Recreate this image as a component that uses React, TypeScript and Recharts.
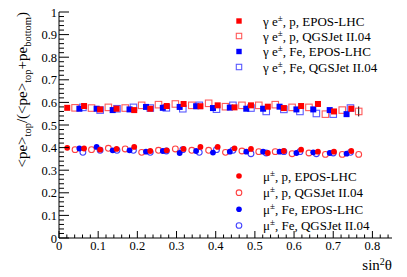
import React from 'react';
import { ScatterChart, Scatter, XAxis, YAxis, ErrorBar } from 'recharts';

const W = 407;
const H = 277;
const FONT = '"Liberation Serif", "Times New Roman", serif';
const RED = '#ff0000';
const BLUE = '#0000ff';

// x positions (sin^2 theta) per model/primary
const xEposP = [0.021, 0.064, 0.105, 0.147, 0.192, 0.233, 0.275, 0.318, 0.361, 0.405, 0.448, 0.49, 0.533, 0.574, 0.618, 0.661, 0.702, 0.746];
const xQgsP = [0.041, 0.083, 0.126, 0.169, 0.211, 0.254, 0.297, 0.339, 0.382, 0.425, 0.467, 0.51, 0.552, 0.595, 0.638, 0.68, 0.723, 0.765];
const xEposFe = [0.052, 0.096, 0.137, 0.18, 0.222, 0.265, 0.308, 0.35, 0.393, 0.436, 0.478, 0.521, 0.563, 0.606, 0.649, 0.691, 0.734];
const xQgsFe = [0.061, 0.105, 0.148, 0.19, 0.233, 0.274, 0.316, 0.358, 0.402, 0.444, 0.49, 0.529, 0.574, 0.615, 0.657, 0.7, 0.744];

// gamma e+- ratios
const eEposP = [0.576, 0.584, 0.569, 0.572, 0.566, 0.572, 0.584, 0.593, 0.583, 0.587, 0.578, 0.587, 0.581, 0.575, 0.584, 0.593, 0.56, 0.572];
const eQgsP = [0.576, 0.575, 0.578, 0.575, 0.587, 0.59, 0.593, 0.587, 0.596, 0.581, 0.587, 0.587, 0.59, 0.578, 0.578, 0.548, 0.566, 0.56];
const eQgsPErr = [0, 0, 0, 0, 0, 0, 0, 0, 0, 0, 0, 0, 0, 0, 0, 0, 0, 0.022];
const eEposFe = [0.572, 0.572, 0.566, 0.569, 0.58, 0.576, 0.58, 0.583, 0.575, 0.577, 0.572, 0.572, 0.581, 0.569, 0.569, 0.566, 0.548];
const eQgsFe = [0.578, 0.566, 0.572, 0.578, 0.575, 0.576, 0.572, 0.587, 0.57, 0.587, 0.575, 0.56, 0.569, 0.56, 0.551, 0.548, 0.575];

// muon ratios
const muEposP = [0.399, 0.396, 0.391, 0.394, 0.403, 0.385, 0.388, 0.394, 0.403, 0.403, 0.397, 0.394, 0.376, 0.385, 0.391, 0.382, 0.382, 0.385];
const muQgsP = [0.391, 0.391, 0.397, 0.394, 0.379, 0.388, 0.394, 0.388, 0.388, 0.379, 0.385, 0.382, 0.382, 0.373, 0.376, 0.37, 0.37, 0.37];
const muEposFe = [0.396, 0.403, 0.388, 0.388, 0.382, 0.385, 0.376, 0.385, 0.378, 0.382, 0.382, 0.382, 0.382, 0.376, 0.379, 0.376, 0.373];
const muQgsFe = [0.379, 0.388, 0.388, 0.388, 0.379, 0.385, 0.391, 0.379, 0.391, 0.388, 0.373, 0.376, 0.382, 0.382, 0.373, 0.376, 0.379];

const xMajorTicks = [0, 0.1, 0.2, 0.3, 0.4, 0.5, 0.6, 0.7, 0.8];
const yMajorTicks = [0, 0.1, 0.2, 0.3, 0.4, 0.5, 0.6, 0.7, 0.8, 0.9, 1];
const xAllTicks = Array.from({ length: 43 }, (_, i) => +(i * 0.02).toFixed(2));
const yAllTicks = Array.from({ length: 51 }, (_, i) => +(i * 0.02).toFixed(2));

const legendTop = [
  { kind: 'fsq', color: RED, label: ', p, EPOS-LHC' },
  { kind: 'osq', color: RED, label: ', p, QGSJet II.04' },
  { kind: 'fsq', color: BLUE, label: ', Fe, EPOS-LHC' },
  { kind: 'osq', color: BLUE, label: ', Fe, QGSJet II.04' },
];
const legendBottom = [
  { kind: 'fc', color: RED, label: ', p, EPOS-LHC' },
  { kind: 'oc', color: RED, label: ', p, QGSJet II.04' },
  { kind: 'fc', color: BLUE, label: ', Fe, EPOS-LHC' },
  { kind: 'oc', color: BLUE, label: ', Fe, QGSJet II.04' },
];

const zip = (xs: number[], ys: number[], errs?: number[]) =>
  xs.map((x, i) => ({ x, y: ys[i], err: errs ? errs[i] : 0 }));

const isMajor = (v: number, majors: number[]) => majors.some((m) => Math.abs(m - v) < 1e-6);
const fmt = (v: number) => String(Math.round(v * 10) / 10);

const XTick = (props: any) => {
  const { x, y, payload } = props;
  const v = payload.value;
  const major = isMajor(v, xMajorTicks);
  return (
    <g>
      <line x1={x} x2={x} y1={y} y2={y - (major ? 7 : 3.5)} stroke="#000" strokeWidth={1} />
      {major && (
        <text x={x} y={y + 12} textAnchor="middle" fontFamily={FONT} fontSize={12.5} fill="#000">
          {fmt(v)}
        </text>
      )}
    </g>
  );
};

const YTick = (props: any) => {
  const { x, y, payload } = props;
  const v = payload.value;
  const major = isMajor(v, yMajorTicks);
  return (
    <g>
      <line x1={x} x2={x + (major ? 10 : 5)} y1={y} y2={y} stroke="#000" strokeWidth={1} />
      {major && (
        <text x={x - 2} y={y + 4.5} textAnchor="end" fontFamily={FONT} fontSize={12.5} fill="#000">
          {fmt(v)}
        </text>
      )}
    </g>
  );
};

const FilledSquare = (color: string, s: number) => (p: any) => (
  <rect x={p.cx - s / 2} y={p.cy - s / 2} width={s} height={s} fill={color} />
);
const OpenSquare = (color: string, s: number) => (p: any) => (
  <rect x={p.cx - s / 2} y={p.cy - s / 2} width={s} height={s} fill="none" stroke={color} strokeOpacity={0.65} strokeWidth={1.1} />
);
const FilledCircle = (color: string, r: number) => (p: any) => (
  <circle cx={p.cx} cy={p.cy} r={r} fill={color} />
);
const OpenCircle = (color: string, r: number) => (p: any) => (
  <circle cx={p.cx} cy={p.cy} r={r} fill="none" stroke={color} strokeOpacity={0.75} strokeWidth={1.1} />
);

const LegendMark = ({ kind, color, cx, cy }: any) => {
  if (kind === 'fsq') return <rect x={cx - 2.7} y={cy - 2.7} width={5.4} height={5.4} fill={color} />;
  if (kind === 'osq')
    return <rect x={cx - 2.7} y={cy - 2.7} width={5.4} height={5.4} fill="none" stroke={color} strokeOpacity={0.65} strokeWidth={1.1} />;
  if (kind === 'fc') return <circle cx={cx} cy={cy} r={2.8} fill={color} />;
  return <circle cx={cx} cy={cy} r={2.8} fill="none" stroke={color} strokeOpacity={0.75} strokeWidth={1.1} />;
};

export default function App() {
  const topRows = [21, 36, 51.5, 67];
  const botRows = [176, 192.7, 209.3, 225.5];
  return (
    <div style={{ position: 'absolute', left: 0, top: 0, width: W, height: H, background: '#fff' }}>
      <ScatterChart width={W} height={H} margin={{ top: 12, right: 15, bottom: 9, left: 9 }}>
        <XAxis
          xAxisId={0}
          type="number"
          dataKey="x"
          domain={[0, 0.85]}
          ticks={xAllTicks}
          interval={0}
          height={30}
          tickSize={0}
          tickMargin={0}
          tickLine={false}
          axisLine={{ stroke: '#000' }}
          tick={<XTick />}
          allowDataOverflow
        />
        <XAxis xAxisId="top" orientation="top" type="number" domain={[0, 0.85]} height={0} tick={false} tickLine={false} axisLine={{ stroke: '#000' }} />
        <YAxis
          yAxisId={0}
          type="number"
          dataKey="y"
          domain={[0, 1]}
          ticks={yAllTicks}
          interval={0}
          width={50}
          tickSize={0}
          tickMargin={0}
          tickLine={false}
          axisLine={{ stroke: '#000' }}
          tick={<YTick />}
          allowDataOverflow
        />
        <YAxis yAxisId="right" orientation="right" type="number" domain={[0, 1]} width={0} tick={false} tickLine={false} axisLine={{ stroke: '#000' }} />

        <Scatter data={zip(xQgsP, eQgsP, eQgsPErr)} shape={OpenSquare(RED, 6.5)} isAnimationActive={false}>
          <ErrorBar dataKey="err" direction="y" width={0} stroke="#000" strokeWidth={1} />
        </Scatter>
        <Scatter data={zip(xQgsFe, eQgsFe)} shape={OpenSquare(BLUE, 6.5)} isAnimationActive={false} />
        <Scatter data={zip(xEposFe, eEposFe)} shape={FilledSquare(BLUE, 6)} isAnimationActive={false} />
        <Scatter data={zip(xEposP, eEposP)} shape={FilledSquare(RED, 6)} isAnimationActive={false} />

        <Scatter data={zip(xQgsP, muQgsP)} shape={OpenCircle(RED, 2.9)} isAnimationActive={false} />
        <Scatter data={zip(xQgsFe, muQgsFe)} shape={OpenCircle(BLUE, 2.9)} isAnimationActive={false} />
        <Scatter data={zip(xEposFe, muEposFe)} shape={FilledCircle(BLUE, 2.9)} isAnimationActive={false} />
        <Scatter data={zip(xEposP, muEposP)} shape={FilledCircle(RED, 2.9)} isAnimationActive={false} />
      </ScatterChart>

      <svg width={W} height={H} style={{ position: 'absolute', left: 0, top: 0, pointerEvents: 'none' }}>
        {/* y title */}
        <text transform="translate(27,12) rotate(-90)" textAnchor="end" fontFamily={FONT} fontSize={15} fill="#000">
          {'<pe>'}
          <tspan dy={4} fontSize={10.5}>top</tspan>
          <tspan dy={-4}>{'/(<pe>'}</tspan>
          <tspan dy={4} fontSize={10.5}>top</tspan>
          <tspan dy={-4}>{'+pe'}</tspan>
          <tspan dy={4} fontSize={10.5}>bottom</tspan>
          <tspan dy={-4}>{')'}</tspan>
        </text>
        {/* x title */}
        <text x={392} y={270} textAnchor="end" fontFamily={FONT} fontSize={15} fill="#000">
          sin
          <tspan dy={-5} fontSize={10}>2</tspan>
          <tspan dy={5}>θ</tspan>
        </text>
        {legendTop.map((e, i) => (
          <g key={'t' + i}>
            <LegendMark kind={e.kind} color={e.color} cx={239} cy={topRows[i]} />
            <text x={263} y={topRows[i] + 4.5} fontFamily={FONT} fontSize={13} fill="#000">
              γ e<tspan dy={-5} fontSize={9}>±</tspan>
              <tspan dy={5}>{e.label}</tspan>
            </text>
          </g>
        ))}
        {legendBottom.map((e, i) => (
          <g key={'b' + i}>
            <LegendMark kind={e.kind} color={e.color} cx={239} cy={botRows[i]} />
            <text x={263} y={botRows[i] + 4.5} fontFamily={FONT} fontSize={13} fill="#000">
              μ<tspan dy={-5} fontSize={9}>±</tspan>
              <tspan dy={5}>{e.label}</tspan>
            </text>
          </g>
        ))}
      </svg>
    </div>
  );
}
